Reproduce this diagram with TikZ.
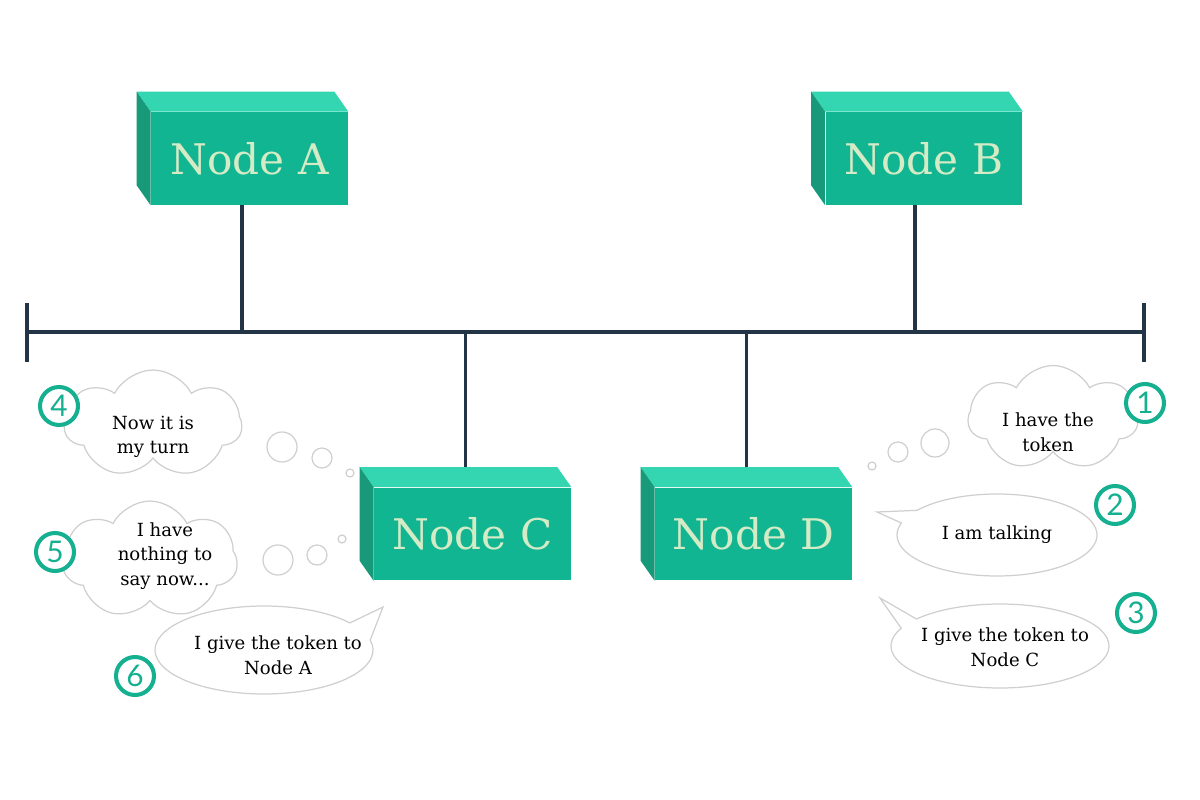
\documentclass[tikz,border=0pt]{standalone}
\usepackage{fontspec}
\setmainfont{DejaVu Serif}
\newfontfamily\numfont{Lato}
\usetikzlibrary{shapes.symbols,calc}
\definecolor{frontc}{HTML}{12B592}
\definecolor{topc}{HTML}{33D6B0}
\definecolor{sidec}{HTML}{17997A}
\definecolor{labc}{HTML}{D4EBC6}
\definecolor{busc}{HTML}{243447}
\definecolor{tealc}{HTML}{14B08F}
\definecolor{cloudc}{HTML}{CFCFCF}
\newcommand\tokenbox[3]{%
  \node[boxfront] (#1) at (#2) {#3};
  \fill[topc] (#1.north west) -- ++(-14,-20) -- ($(#1.north east)+(-14,-20)$) -- (#1.north east) -- cycle;
  \fill[sidec] (#1.north west) -- ++(-14,-20) -- ($(#1.south west)+(-14,-20)$) -- (#1.south west) -- cycle;
}
\begin{document}
\begin{tikzpicture}[x=0.02cm,y=-0.02cm,
  boxfront/.style={fill=frontc, minimum width=3.94cm, minimum height=1.86cm, inner sep=0pt, text=labc, font=\fontsize{24}{30}\selectfont},
  bus/.style={draw=busc, line width=1.9pt},
  cloudshape/.style={cloud, cloud puffs=7, cloud puff arc=125, aspect=1.6, draw=cloudc, line width=0.7pt, fill=white, inner sep=0pt},
  dot/.style={circle, draw=cloudc, line width=0.7pt, inner sep=0pt},
  msg/.style={align=center, font=\fontsize{10.3}{14}\selectfont},
  num/.style={circle, draw=tealc, fill=white, line width=2.3pt, minimum size=0.76cm, text=tealc, font=\numfont\fontsize{17}{17}\selectfont, inner sep=0pt},
  bubble/.style={draw=cloudc, line width=0.7pt, fill=white}]
\useasboundingbox (0,0) rectangle (1200,800);

% bus
\coordinate (busL) at (27,332);
\coordinate (busR) at (1144,332);
\coordinate (busLt) at (27,303);
\coordinate (busLb) at (27,362);
\coordinate (busRt) at (1144,303);
\coordinate (busRb) at (1144,362);
\draw[bus] (busL) -- (busR);
\draw[bus] (busLt) -- (busLb);
\draw[bus] (busRt) -- (busRb);

% boxes
\tokenbox{A}{249.5,158.5}{Node A}
\tokenbox{B}{924,158.5}{Node B}
\coordinate (Ctop) at (465.5,468);
\coordinate (Dtop) at (746.5,468);
\draw[bus] (Ctop) -- (Ctop |- busL);
\draw[bus] (Dtop) -- (Dtop |- busL);
\tokenbox{C}{472.5,534}{Node C}
\tokenbox{D}{753.5,534}{Node D}
\coordinate (Abot) at ($(A.south)+(-7.5,0)$);
\coordinate (Bbot) at ($(B.south)+(-9,0)$);
\draw[bus] (Abot) -- (Abot |- busL);
\draw[bus] (Bbot) -- (Bbot |- busL);

% thought clouds
\node[cloudshape, minimum width=3.55cm, minimum height=2.16cm] (cl4) at (153,424) {};
\node[msg] (t4) at (153,437) {Now it is\\my turn};
\node[dot, minimum size=0.6cm] (d4a) at (282,447) {};
\node[dot, minimum size=0.4cm] (d4b) at (322,458) {};
\node[dot, minimum size=0.16cm] (d4c) at (350,473) {};

\node[cloudshape, minimum width=3.5cm, minimum height=2.36cm] (cl5) at (150,560) {};
\node[msg] (t5) at (165,556) {I have\\nothing to\\say now...};
\node[dot, minimum size=0.6cm] (d5a) at (278,560) {};
\node[dot, minimum size=0.4cm] (d5b) at (317,555) {};
\node[dot, minimum size=0.16cm] (d5c) at (342,539) {};

\node[cloudshape, minimum width=3.4cm, minimum height=2.1cm] (cl1) at (1053,418) {};
\node[msg] (t1) at (1048,432) {I have the\\token};
\node[dot, minimum size=0.56cm] (d1a) at (935,443) {};
\node[dot, minimum size=0.4cm] (d1b) at (898,452) {};
\node[dot, minimum size=0.16cm] (d1c) at (872,466) {};

% speech bubbles
\coordinate (b2c) at (997,535);
\coordinate (b2tip) at (877,512);
\filldraw[bubble] (b2c) ++(217:100 and 41) arc[start angle=217, end angle=557, x radius=100, y radius=41] -- (b2tip) -- cycle;
\node[msg] (t2) at (b2c) {I am talking};

\coordinate (b3c) at (1000,646);
\coordinate (b3tip) at (880,598);
\filldraw[bubble] (b3c) ++(220:109 and 42) arc[start angle=220, end angle=565, x radius=109, y radius=42] -- (b3tip) -- cycle;
\node[msg] (t3) at (1005,647) {I give the token to\\Node C};

\coordinate (b6c) at (264,650);
\coordinate (b6tip) at (383,607);
\filldraw[bubble] (b6c) ++(347:109 and 44) arc[start angle=347, end angle=682, x radius=109, y radius=44] -- (b6tip) -- cycle;
\node[msg] (t6) at (278,655) {I give the token to\\Node A};

% numbers
\node[num] (n1) at (1145,403) {1};
\node[num] (n2) at (1115,505) {2};
\node[num] (n3) at (1136,613) {3};
\node[num] (n4) at (59,406) {4};
\node[num] (n5) at (55,552) {5};
\node[num] (n6) at (135,676) {6};
\end{tikzpicture}
\end{document}
